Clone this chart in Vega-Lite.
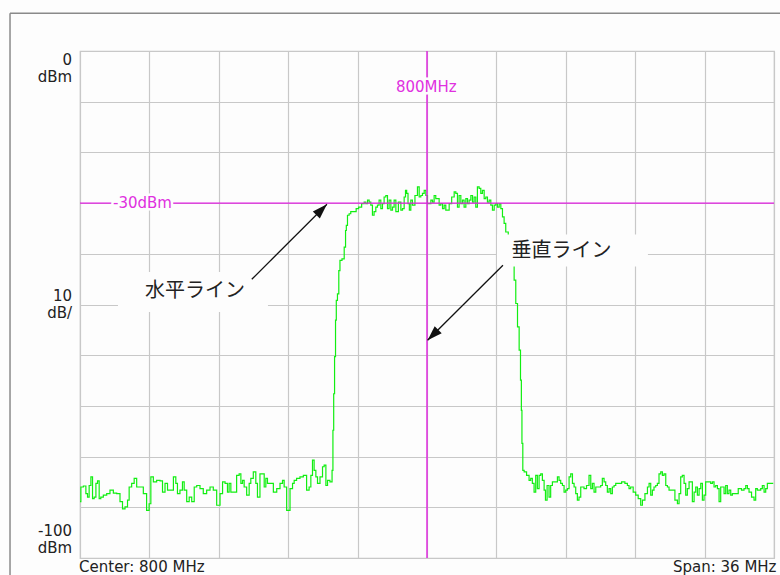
{
  "$schema": "https://vega.github.io/schema/vega-lite/v6.json",
  "width": 694,
  "height": 507,
  "autosize": {"type": "none"},
  "padding": {"left": 80, "top": 51, "right": 6, "bottom": 17},
  "background": "#fdfdfd",
  "config": {"view": {"stroke": "#c8c8c8", "strokeWidth": 1.2}, "font": "DejaVu Sans"},
  "datasets": {
    "trace": [
      {"f":782.00,"p":-88.9},{"f":782.09,"p":-86.0},{"f":782.26,"p":-85.8},{"f":782.35,"p":-87.3},{"f":782.43,"p":-88.0},{"f":782.52,"p":-85.7},{"f":782.61,"p":-84.0},{"f":782.69,"p":-88.3},{"f":782.78,"p":-88.0},{"f":782.87,"p":-85.3},{"f":782.95,"p":-84.8},{"f":783.04,"p":-88.3},{"f":783.12,"p":-88.0},{"f":783.30,"p":-87.6},{"f":783.47,"p":-87.3},{"f":783.64,"p":-86.6},{"f":783.82,"p":-87.2},{"f":783.99,"p":-87.3},{"f":784.16,"p":-88.9},{"f":784.25,"p":-90.3},{"f":784.42,"p":-89.9},{"f":784.51,"p":-88.6},{"f":784.59,"p":-86.0},{"f":784.77,"p":-85.3},{"f":784.85,"p":-84.3},{"f":785.03,"p":-86.0},{"f":785.20,"p":-86.0},{"f":785.37,"p":-87.3},{"f":785.54,"p":-90.6},{"f":785.63,"p":-89.3},{"f":785.72,"p":-84.0},{"f":785.89,"p":-85.0},{"f":786.06,"p":-84.7},{"f":786.24,"p":-84.8},{"f":786.32,"p":-87.0},{"f":786.50,"p":-85.3},{"f":786.58,"p":-86.6},{"f":786.76,"p":-86.6},{"f":786.93,"p":-84.0},{"f":787.01,"p":-85.3},{"f":787.10,"p":-87.3},{"f":787.27,"p":-86.6},{"f":787.36,"p":-85.0},{"f":787.45,"p":-86.6},{"f":787.62,"p":-88.9},{"f":787.71,"p":-88.0},{"f":787.88,"p":-88.9},{"f":787.97,"p":-86.0},{"f":788.14,"p":-85.7},{"f":788.31,"p":-86.3},{"f":788.48,"p":-87.3},{"f":788.66,"p":-86.6},{"f":788.83,"p":-86.0},{"f":789.00,"p":-86.6},{"f":789.18,"p":-89.6},{"f":789.35,"p":-87.3},{"f":789.44,"p":-85.0},{"f":789.61,"p":-85.3},{"f":789.69,"p":-87.0},{"f":789.78,"p":-85.3},{"f":789.87,"p":-87.0},{"f":790.04,"p":-87.0},{"f":790.21,"p":-83.7},{"f":790.30,"p":-83.4},{"f":790.39,"p":-85.3},{"f":790.47,"p":-84.7},{"f":790.56,"p":-86.0},{"f":790.73,"p":-87.6},{"f":790.82,"p":-85.3},{"f":790.90,"p":-84.3},{"f":791.08,"p":-83.0},{"f":791.16,"p":-85.3},{"f":791.25,"p":-88.0},{"f":791.42,"p":-83.4},{"f":791.51,"p":-83.4},{"f":791.60,"p":-86.0},{"f":791.68,"p":-84.3},{"f":791.77,"p":-85.3},{"f":791.94,"p":-85.3},{"f":792.12,"p":-87.0},{"f":792.29,"p":-86.3},{"f":792.46,"p":-85.3},{"f":792.55,"p":-84.7},{"f":792.63,"p":-86.0},{"f":792.81,"p":-90.6},{"f":792.98,"p":-86.3},{"f":793.07,"p":-85.3},{"f":793.15,"p":-84.7},{"f":793.32,"p":-84.3},{"f":793.50,"p":-84.0},{"f":793.67,"p":-83.7},{"f":793.84,"p":-86.6},{"f":793.93,"p":-86.0},{"f":794.02,"p":-83.7},{"f":794.10,"p":-80.7},{"f":794.19,"p":-82.7},{"f":794.28,"p":-84.0},{"f":794.36,"p":-85.3},{"f":794.54,"p":-84.0},{"f":794.62,"p":-82.0},{"f":794.71,"p":-81.7},{"f":794.80,"p":-85.7},{"f":794.88,"p":-84.7},{"f":795.05,"p":-85.0},{"f":795.10,"p":-82.7},
      {"f":795.14,"p":-74.8},{"f":795.18,"p":-67.6},{"f":795.23,"p":-60.3},{"f":795.28,"p":-53.1},{"f":795.31,"p":-49.2},{"f":795.40,"p":-47.9},{"f":795.45,"p":-43.3},{"f":795.52,"p":-41.3},{"f":795.66,"p":-41.0},{"f":795.75,"p":-38.7},{"f":795.80,"p":-35.4},{"f":795.83,"p":-34.4},{"f":795.92,"p":-32.4},{"f":796.00,"p":-32.1},{"f":796.09,"p":-31.7},{"f":796.26,"p":-31.7},{"f":796.39,"p":-31.1},{"f":796.52,"p":-30.8},{"f":796.70,"p":-30.1},{"f":796.78,"p":-29.8},{"f":796.87,"p":-30.1},{"f":796.96,"p":-29.4},{"f":797.04,"p":-29.8},{"f":797.13,"p":-30.4},{"f":797.21,"p":-32.4},{"f":797.30,"p":-31.7},{"f":797.39,"p":-30.8},{"f":797.47,"p":-30.4},{"f":797.56,"p":-29.4},{"f":797.65,"p":-31.1},{"f":797.73,"p":-30.1},{"f":797.82,"p":-28.8},{"f":797.91,"p":-28.5},{"f":797.99,"p":-31.1},{"f":798.08,"p":-29.4},{"f":798.17,"p":-31.4},{"f":798.25,"p":-30.8},{"f":798.34,"p":-29.4},{"f":798.43,"p":-31.7},{"f":798.60,"p":-29.8},{"f":798.69,"p":-31.4},{"f":798.77,"p":-31.1},{"f":798.86,"p":-28.8},{"f":798.91,"p":-27.5},{"f":798.98,"p":-28.1},{"f":799.05,"p":-30.1},{"f":799.12,"p":-31.4},{"f":799.20,"p":-29.4},{"f":799.29,"p":-30.4},{"f":799.46,"p":-28.5},{"f":799.55,"p":-26.8},{"f":799.64,"p":-28.8},{"f":799.72,"p":-28.5},{"f":799.81,"p":-28.1},{"f":799.90,"p":-27.5},{"f":799.98,"p":-28.5},{"f":800.07,"p":-30.1},{"f":800.16,"p":-30.1},{"f":800.24,"p":-29.4},{"f":800.33,"p":-29.8},{"f":800.41,"p":-28.5},{"f":800.50,"p":-29.1},{"f":800.59,"p":-29.1},{"f":800.67,"p":-30.4},{"f":800.76,"p":-30.1},{"f":800.85,"p":-31.1},{"f":800.93,"p":-30.4},{"f":801.02,"p":-31.4},{"f":801.11,"p":-31.4},{"f":801.19,"p":-30.1},{"f":801.37,"p":-28.8},{"f":801.45,"p":-27.8},{"f":801.54,"p":-28.1},{"f":801.62,"p":-30.8},{"f":801.71,"p":-28.5},{"f":801.80,"p":-30.1},{"f":801.88,"p":-29.4},{"f":801.97,"p":-30.8},{"f":802.06,"p":-29.1},{"f":802.14,"p":-30.1},{"f":802.23,"p":-29.4},{"f":802.32,"p":-28.5},{"f":802.40,"p":-29.8},{"f":802.49,"p":-28.8},{"f":802.57,"p":-30.8},{"f":802.66,"p":-26.8},{"f":802.75,"p":-27.1},{"f":802.83,"p":-28.1},{"f":802.92,"p":-27.5},{"f":803.01,"p":-29.1},{"f":803.09,"p":-28.8},{"f":803.18,"p":-29.8},{"f":803.27,"p":-29.4},{"f":803.35,"p":-30.4},{"f":803.44,"p":-31.4},{"f":803.53,"p":-30.4},{"f":803.61,"p":-30.1},{"f":803.70,"p":-30.8},{"f":803.79,"p":-30.1},{"f":803.87,"p":-31.1},{"f":803.96,"p":-32.7},{"f":804.04,"p":-34.0},{"f":804.13,"p":-35.7},{"f":804.30,"p":-37.3},{"f":804.39,"p":-39.3},{"f":804.48,"p":-41.9},{"f":804.56,"p":-45.2},{"f":804.65,"p":-49.8},{"f":804.74,"p":-54.4},{"f":804.82,"p":-59.0},{"f":804.88,"p":-64.9},{"f":804.91,"p":-70.9},{"f":804.94,"p":-77.4},{"f":805.00,"p":-82.7},
      {"f":805.08,"p":-83.0},{"f":805.25,"p":-83.7},{"f":805.34,"p":-84.7},{"f":805.42,"p":-84.3},{"f":805.51,"p":-85.3},{"f":805.60,"p":-87.0},{"f":805.68,"p":-83.7},{"f":805.77,"p":-86.3},{"f":805.86,"p":-83.7},{"f":805.94,"p":-83.4},{"f":806.03,"p":-84.7},{"f":806.12,"p":-86.6},{"f":806.17,"p":-88.6},{"f":806.29,"p":-85.7},{"f":806.37,"p":-88.0},{"f":806.46,"p":-85.7},{"f":806.55,"p":-85.0},{"f":806.72,"p":-85.0},{"f":806.81,"p":-84.0},{"f":806.89,"p":-84.7},{"f":806.98,"p":-85.3},{"f":807.07,"p":-85.7},{"f":807.15,"p":-87.0},{"f":807.24,"p":-86.6},{"f":807.33,"p":-86.3},{"f":807.41,"p":-84.0},{"f":807.50,"p":-83.4},{"f":807.59,"p":-85.3},{"f":807.67,"p":-86.0},{"f":807.76,"p":-87.3},{"f":807.84,"p":-88.6},{"f":807.93,"p":-88.0},{"f":808.02,"p":-86.0},{"f":808.10,"p":-86.0},{"f":808.19,"p":-86.3},{"f":808.36,"p":-85.7},{"f":808.45,"p":-83.7},{"f":808.54,"p":-86.3},{"f":808.62,"p":-85.3},{"f":808.71,"p":-87.0},{"f":808.80,"p":-86.0},{"f":808.97,"p":-86.0},{"f":809.05,"p":-85.7},{"f":809.14,"p":-84.3},{"f":809.23,"p":-85.0},{"f":809.31,"p":-85.7},{"f":809.40,"p":-87.0},{"f":809.49,"p":-86.3},{"f":809.57,"p":-87.3},{"f":809.66,"p":-86.0},{"f":809.75,"p":-85.7},{"f":809.83,"p":-85.3},{"f":810.01,"p":-85.3},{"f":810.18,"p":-85.0},{"f":810.35,"p":-85.3},{"f":810.44,"p":-85.7},{"f":810.52,"p":-86.3},{"f":810.61,"p":-86.0},{"f":810.78,"p":-87.0},{"f":810.87,"p":-87.6},{"f":811.04,"p":-88.3},{"f":811.13,"p":-89.6},{"f":811.22,"p":-88.6},{"f":811.39,"p":-87.3},{"f":811.48,"p":-86.0},{"f":811.56,"p":-85.3},{"f":811.65,"p":-87.6},{"f":811.73,"p":-86.6},{"f":811.82,"p":-86.0},{"f":811.91,"p":-85.7},{"f":811.99,"p":-85.3},{"f":812.08,"p":-83.4},{"f":812.17,"p":-83.0},{"f":812.25,"p":-83.7},{"f":812.34,"p":-83.4},{"f":812.43,"p":-85.7},{"f":812.51,"p":-86.0},{"f":812.60,"p":-86.6},{"f":812.77,"p":-86.6},{"f":812.95,"p":-88.6},{"f":813.03,"p":-89.3},{"f":813.12,"p":-87.3},{"f":813.20,"p":-84.0},{"f":813.29,"p":-83.7},{"f":813.38,"p":-85.3},{"f":813.46,"p":-87.6},{"f":813.55,"p":-86.3},{"f":813.64,"p":-85.0},{"f":813.72,"p":-85.0},{"f":813.81,"p":-88.9},{"f":813.90,"p":-87.0},{"f":813.98,"p":-86.0},{"f":814.07,"p":-87.6},{"f":814.16,"p":-86.3},{"f":814.24,"p":-85.3},{"f":814.33,"p":-88.6},{"f":814.41,"p":-87.6},{"f":814.50,"p":-85.0},{"f":814.67,"p":-85.0},{"f":814.76,"p":-85.3},{"f":814.85,"p":-85.0},{"f":814.93,"p":-86.0},{"f":815.02,"p":-85.7},{"f":815.11,"p":-86.3},{"f":815.19,"p":-88.9},{"f":815.28,"p":-86.0},{"f":815.37,"p":-86.0},{"f":815.45,"p":-87.3},{"f":815.54,"p":-85.7},{"f":815.62,"p":-87.3},{"f":815.71,"p":-86.6},{"f":815.80,"p":-87.6},{"f":815.88,"p":-87.3},{"f":816.06,"p":-87.3},{"f":816.23,"p":-86.3},{"f":816.40,"p":-86.6},{"f":816.49,"p":-86.3},{"f":816.58,"p":-85.7},{"f":816.66,"p":-86.3},{"f":816.75,"p":-87.0},{"f":816.92,"p":-88.0},{"f":817.01,"p":-88.6},{"f":817.09,"p":-86.3},{"f":817.18,"p":-86.6},{"f":817.27,"p":-86.6},{"f":817.35,"p":-86.3},{"f":817.44,"p":-85.7},{"f":817.53,"p":-87.0},{"f":817.61,"p":-86.3},{"f":817.70,"p":-85.3},{"f":817.79,"p":-85.3},{"f":817.96,"p":-85.3}
    ]
  },
  "encoding": {
    "x": {"field": "f", "type": "quantitative",
      "scale": {"domain": [782, 818], "nice": false, "zero": false},
      "axis": {"values": [782, 785.6, 789.2, 792.8, 796.4, 800, 803.6, 807.2, 810.8, 814.4, 818], "grid": true, "labels": false, "ticks": false, "domain": false, "title": null, "gridColor": "#c8c8c8", "gridWidth": 1.2, "gridOpacity": 1}},
    "y": {"field": "p", "type": "quantitative",
      "scale": {"domain": [-100, 0], "nice": false, "zero": false},
      "axis": {"values": [-100, -90, -80, -70, -60, -50, -40, -30, -20, -10, 0], "grid": true, "labels": false, "ticks": false, "domain": false, "title": null, "gridColor": "#c8c8c8", "gridWidth": 1.2, "gridOpacity": 1}}
  },
  "layer": [
    {"data": {"values": [{"f": 778.37, "f2": 818.6, "p": 7.44}]},
     "mark": {"type": "rule", "color": "#8a8a8a", "strokeWidth": 1.5},
     "encoding": {"x2": {"field": "f2"}}},
    {"data": {"values": [{"f": 778.37, "p": 7.44, "p2": -104}]},
     "mark": {"type": "rule", "color": "#8a8a8a", "strokeWidth": 1.5},
     "encoding": {"y2": {"field": "p2"}}},
    {"data": {"name": "trace"},
     "mark": {"type": "line", "interpolate": "step", "color": "#11ee11", "strokeWidth": 1.2},
     "encoding": {}},
    {"data": {"values": [{"f": 782, "f2": 818, "p": -30}]},
     "mark": {"type": "rule", "color": "#e020e0", "strokeWidth": 1.4},
     "encoding": {"x2": {"field": "f2"}}},
    {"data": {"values": [{"f": 800, "p": 0, "p2": -100}]},
     "mark": {"type": "rule", "color": "#e020e0", "strokeWidth": 1.4},
     "encoding": {"y2": {"field": "p2"}}},
    {"data": {"values": [{"f": 783.71, "p": -30, "t": "-30dBm"}, {"f": 798.39, "p": -7.1, "t": "800MHz"}]},
     "mark": {"type": "text", "align": "left", "baseline": "middle", "fontSize": 15, "fill": "#fdfdfd", "stroke": "#fdfdfd", "strokeWidth": 5, "strokeJoin": "round"},
     "encoding": {"text": {"field": "t"}}},
    {"data": {"values": [{"f": 783.71, "p": -30, "t": "-30dBm"}, {"f": 798.39, "p": -7.1, "t": "800MHz"}]},
     "mark": {"type": "text", "align": "left", "baseline": "middle", "fontSize": 15, "color": "#e030e0"},
     "encoding": {"text": {"field": "t"}}},
    {"data": {"values": [{"f": 783.97, "f2": 791.75, "p": -43.6, "p2": -51.5}, {"f": 803.63, "f2": 811.46, "p": -36.2, "p2": -42.5}]},
     "mark": {"type": "rect", "color": "#fdfdfd"},
     "encoding": {"x2": {"field": "f2"}, "y2": {"field": "p2"}}},
    {"data": {"values": [{"f": 790.91, "f2": 794.81, "p": -45.03, "p2": -30.24}, {"f": 803.94, "f2": 800.03, "p": -42.27, "p2": -57.06}]},
     "mark": {"type": "rule", "color": "#111111", "strokeWidth": 1.3},
     "encoding": {"x2": {"field": "f2"}, "y2": {"field": "p2"}}},
    {"data": {"values": [{"f": 794.81, "p": -30.24}]},
     "mark": {"type": "point", "shape": "M0,0L-0.33,1L0.33,1Z", "size": 900, "angle": 45, "filled": true, "color": "#111111", "opacity": 1},
     "encoding": {}},
    {"data": {"values": [{"f": 800.03, "p": -57.06}]},
     "mark": {"type": "point", "shape": "M0,0L-0.33,1L0.33,1Z", "size": 900, "angle": 225, "filled": true, "color": "#111111", "opacity": 1},
     "encoding": {}},
    {"data": {"values": [{"f": 787.97, "p": -47.4, "t": "水平ライン"}, {"f": 806.98, "p": -39.5, "t": "垂直ライン"}]},
     "mark": {"type": "text", "align": "center", "baseline": "middle", "fontSize": 20, "font": "Noto Sans CJK JP", "color": "#222222"},
     "encoding": {"text": {"field": "t"}}},
    {"data": {"values": [{"f": 781.59, "p": -1.83, "t": "0\ndBm"}, {"f": 781.59, "p": -48.4, "t": "10\ndB/"}, {"f": 781.59, "p": -94.7, "t": "-100\ndBm"}]},
     "mark": {"type": "text", "align": "right", "baseline": "middle", "fontSize": 15, "lineHeight": 17, "lineBreak": "\n", "color": "#222222"},
     "encoding": {"text": {"field": "t"}}},
    {"data": {"values": [{"f": 781.95, "p": -101.75, "t": "Center: 800 MHz"}, {"f": 812.76, "p": -101.75, "t": "Span: 36 MHz"}]},
     "mark": {"type": "text", "align": "left", "baseline": "middle", "fontSize": 15, "color": "#222222"},
     "encoding": {"text": {"field": "t"}}}
  ]
}
